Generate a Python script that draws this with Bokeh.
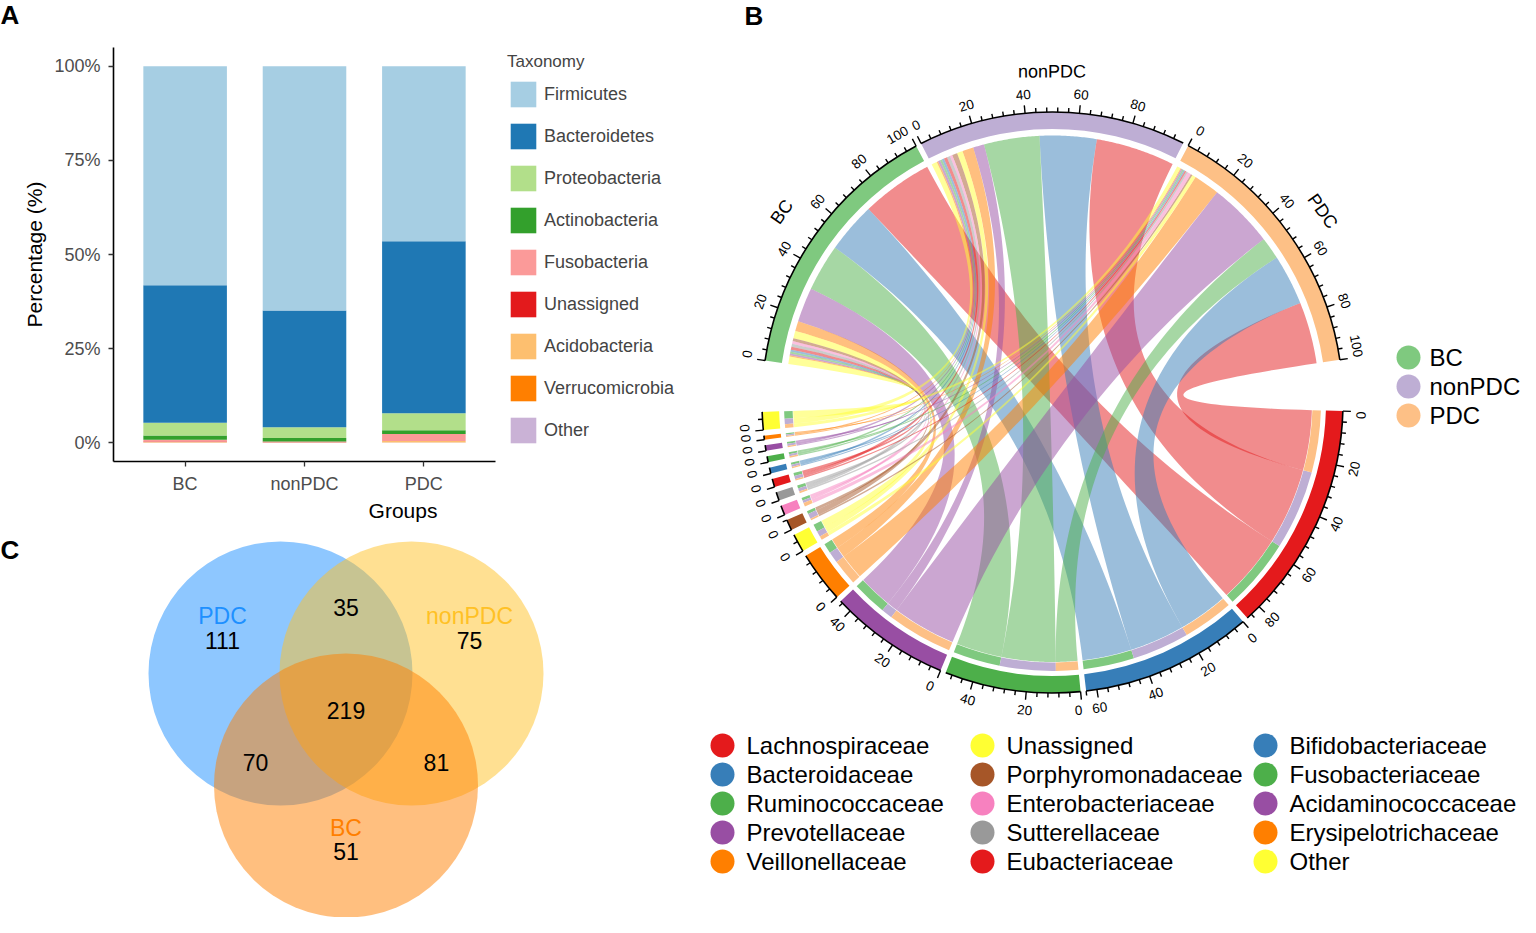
import math
import numpy as np
from bokeh.plotting import figure
from bokeh.models import (ColumnDataSource, Range1d, FixedTicker, Legend, LegendItem)
from bokeh.layouts import row, column
from bokeh.embed import file_html
from bokeh.resources import INLINE
from bokeh.core.properties import value

FONT = "Liberation Sans"

# ---------------- Panel A data ----------------
bar_groups = ["BC", "nonPDC", "PDC"]
taxa = ["Firmicutes", "Bacteroidetes", "Proteobacteria", "Actinobacteria",
        "Fusobacteria", "Unassigned", "Acidobacteria", "Verrucomicrobia", "Other"]
taxa_colors = ["#A6CEE3", "#1F78B4", "#B2DF8A", "#33A02C", "#FB9A99",
               "#E31A1C", "#FDBF6F", "#FF7F00", "#CAB2D6"]
firmicutes = [58.2, 64.9, 46.5]
bacteroidetes = [36.5, 31.0, 45.7]
proteobacteria = [3.4, 2.83, 4.5]
actinobacteria = [1.1, 0.98, 0.97]
fusobacteria = [0.5, 0.05, 1.85]
unassigned_phylum = [0.15, 0.15, 0.05]
acidobacteria = [0.05, 0.02, 0.35]
verrucomicrobia = [0.02, 0.01, 0.02]
other_phylum = [0.08, 0.06, 0.06]
y_ticks = [0, 25, 50, 75, 100]
y_tick_labels = ["0%", "25%", "50%", "75%", "100%"]

# ---------------- Panel B data ----------------
chord_groups = ["BC", "nonPDC", "PDC"]
chord_group_colors = ["#7FC97F", "#BEAED4", "#FDC086"]
families = ["Lachnospiraceae", "Bacteroidaceae", "Ruminococcaceae", "Prevotellaceae",
            "Veillonellaceae", "Unassigned", "Porphyromonadaceae", "Enterobacteriaceae",
            "Sutterellaceae", "Eubacteriaceae", "Bifidobacteriaceae", "Fusobacteriaceae",
            "Acidaminococcaceae", "Erysipelotrichaceae", "Other"]
family_colors = ["#E41A1C", "#377EB8", "#4DAF4A", "#984EA3", "#FF7F00", "#FFFF33",
                 "#A65628", "#F781BF", "#999999", "#E41A1C", "#377EB8", "#4DAF4A",
                 "#984EA3", "#FF7F00", "#FFFF33"]
bc_family = [29.0, 20.5, 19.0, 14.0, 4.0, 3.0, 1.2, 1.1, 1.2, 1.2, 0.8, 0.8, 0.7, 0.5, 3.0]
nonpdc_family = [32.0, 23.0, 22.5, 4.5, 4.5, 2.3, 2.1, 1.0, 1.3, 1.3, 0.9, 0.8, 0.9, 0.6, 2.2]
pdc_family = [25.0, 20.5, 9.0, 26.5, 10.5, 1.5, 0.7, 1.5, 0.7, 0.6, 0.5, 0.6, 0.5, 0.4, 1.5]

# ---------------- Panel C data ----------------
venn_sets = ["PDC", "nonPDC", "BC"]
venn_colors = ["#1E90FF", "#FFC125", "#FF7F00"]
venn_only = [111, 75, 51]
venn_pdc_nonpdc = 35
venn_pdc_bc = 70
venn_nonpdc_bc = 81
venn_all = 219

panel_letters = ["A", "C"]

# =====================================================================
# Narrow strip holding the panel letters A and C
# =====================================================================
STRIP_W = 20
pL = figure(frame_width=STRIP_W, frame_height=917, x_range=Range1d(0, STRIP_W),
            y_range=Range1d(-917, 0), output_backend="svg", toolbar_location=None,
            min_border=0)
pL.axis.visible = False
pL.grid.visible = False
pL.outline_line_color = None
pL.text(x=[0, 0], y=[-14, -549], text=panel_letters, text_font=value(FONT),
        text_font_size="26px", text_font_style="bold", text_baseline="middle",
        text_align="left")

# =====================================================================
# Panel A : stacked bars
# =====================================================================
PX_PER_CAT = 119.375
LEFT_A = 113 - STRIP_W
FRAME_A_W = 579
series = [firmicutes, bacteroidetes, proteobacteria, actinobacteria, fusobacteria,
          unassigned_phylum, acidobacteria, verrucomicrobia, other_phylum]
x_pos = [i + 1 for i in range(len(bar_groups))]
src = ColumnDataSource(dict(xpos=x_pos, **{t: s for t, s in zip(taxa, series)}))

x_lo = 0.4
pA = figure(frame_width=FRAME_A_W, frame_height=414,
            x_range=Range1d(x_lo, x_lo + FRAME_A_W / PX_PER_CAT),
            y_range=Range1d(-5, 105), output_backend="svg", toolbar_location=None,
            min_border_left=LEFT_A, min_border_right=0, min_border_top=47,
            min_border_bottom=64)
rev_taxa = list(reversed(taxa))
rev_cols = list(reversed(taxa_colors))
rends = pA.vbar_stack(stackers=rev_taxa, x="xpos", width=0.7, fill_color=rev_cols,
                      line_color=None, source=src)
rend_map = dict(zip(rev_taxa, rends))
pA.xgrid.visible = False
pA.ygrid.visible = False
pA.outline_line_color = None
for ax in (pA.xaxis[0], pA.yaxis[0]):
    ax.axis_line_color = "black"
    ax.axis_line_width = 1.6
    ax.major_tick_line_color = "#333333"
    ax.major_tick_line_width = 1.3
    ax.major_tick_out = 5
    ax.major_tick_in = 0
    ax.minor_tick_line_color = None
    ax.major_label_text_font = FONT
    ax.major_label_text_font_size = "18px"
    ax.major_label_text_color = "#4D4D4D"
    ax.axis_label_text_font = FONT
    ax.axis_label_text_font_size = "21px"
    ax.axis_label_text_font_style = "normal"
    ax.axis_label_text_color = "black"
pA.yaxis.ticker = FixedTicker(ticks=y_ticks)
pA.yaxis.major_label_overrides = {t: l for t, l in zip(y_ticks, y_tick_labels)}
pA.yaxis.axis_label = "Percentage (%)"
pA.yaxis.major_label_standoff = 8
pA.yaxis.axis_label_standoff = 5
pA.xaxis.ticker = FixedTicker(ticks=x_pos)
pA.xaxis.major_label_overrides = {p: g for p, g in zip(x_pos, bar_groups)}
pA.xaxis.bounds = (x_lo, len(bar_groups) + 0.6)
pA.xaxis.axis_label = "Groups"
pA.xaxis.major_label_standoff = 7
pA.xaxis.axis_label_standoff = 2

legA = Legend(items=[LegendItem(label=t, renderers=[rend_map[t]]) for t in taxa],
              location=(394, 15), title="Taxonomy", glyph_width=32, glyph_height=32,
              label_height=32, spacing=10, label_standoff=5, padding=0, margin=0,
              border_line_color=None, background_fill_alpha=0,
              label_text_font=FONT, label_text_font_size="18px",
              title_text_font=FONT, title_text_font_size="17px",
              title_text_font_style="normal", title_standoff=6)
pA.add_layout(legA)

# =====================================================================
# Panel C : Venn diagram
# =====================================================================
C_TOP = 540
C_H = 392
pC = figure(frame_width=FRAME_A_W, frame_height=C_H, x_range=Range1d(113, 692),
            y_range=Range1d(-(C_TOP + C_H), -C_TOP), output_backend="svg",
            toolbar_location=None, min_border_left=LEFT_A, min_border_right=0,
            min_border_top=0, min_border_bottom=0)
pC.axis.visible = False
pC.grid.visible = False
pC.outline_line_color = None

venn_cx = [280.0, 411.0, 345.5]
venn_cy = [-688.0, -688.0, -800.0]
VR = 132.0
for i in range(3):
    pC.circle(x=[venn_cx[i]], y=[venn_cy[i]], radius=VR, fill_color=venn_colors[i],
              fill_alpha=0.5, line_color=None)
gx, gy = sum(venn_cx) / 3, sum(venn_cy) / 3
vfs = "23px"
for i in range(3):
    dx, dy = venn_cx[i] - gx, venn_cy[i] - gy
    lx, ly = gx + 1.886 * dx, gy + 1.886 * dy
    pC.text(x=[lx], y=[ly + 24], text=[venn_sets[i]], text_color=venn_colors[i],
            text_font=value(FONT), text_font_size=vfs, text_align="center",
            text_baseline="middle")
    pC.text(x=[lx], y=[ly], text=[str(venn_only[i])], text_color="black",
            text_font=value(FONT), text_font_size=vfs, text_align="center",
            text_baseline="middle")
pair_vals = [(venn_nonpdc_bc, 0), (venn_pdc_bc, 1), (venn_pdc_nonpdc, 2)]
for val, opp in pair_vals:
    dx, dy = venn_cx[opp] - gx, venn_cy[opp] - gy
    k = 1.39 if opp == 2 else 1.38
    pC.text(x=[gx - k * dx], y=[gy - k * dy], text=[str(val)], text_color="black",
            text_font=value(FONT), text_font_size=vfs, text_align="center",
            text_baseline="middle")
pC.text(x=[gx], y=[gy], text=[str(venn_all)], text_color="black", text_font=value(FONT),
        text_font_size=vfs, text_align="center", text_baseline="middle")

# =====================================================================
# Panel B : chord diagram
# =====================================================================
pB = figure(frame_width=828, frame_height=917, x_range=Range1d(708, 1536),
            y_range=Range1d(-917, 0), output_backend="svg", toolbar_location=None,
            min_border=0)
pB.axis.visible = False
pB.grid.visible = False
pB.outline_line_color = None

CX, CY = 1068.0, -402.0
DEG_PER_UNIT = 0.537
SMALL_GAP = 1.1
START_ANGLE = 171.7
R_OUT, R_IN = 290.5, 273.5
R_TRACK_OUT, R_TRACK_IN = 268.5, 260.0
R_LINK_GROUP = 267.0
R_LINK_FAM = 259.5
R_TICKLAB = 309.0
TICK_FS = 13.5

matrix = np.array([bc_family, nonpdc_family, pdc_family])
group_tot = matrix.sum(axis=1)
fam_tot = matrix.sum(axis=0)
names = chord_groups + families
colors_all = chord_group_colors + family_colors
sizes = list(group_tot) + list(fam_tot)
big_gap = (360 - sum(sizes) * DEG_PER_UNIT - (len(names) - 2) * SMALL_GAP) / 2

sec_start = []
th = START_ANGLE
for k, s in enumerate(sizes):
    sec_start.append(th)
    th -= s * DEG_PER_UNIT
    th -= big_gap if k in (2, len(sizes) - 1) else SMALL_GAP


def ang(k, v):
    return sec_start[k] - v * DEG_PER_UNIT


def arc_pts(t0, t1, r):
    n = max(3, int(abs(t1 - t0) / 0.4) + 2)
    ts = np.radians(np.linspace(t0, t1, n))
    return list(CX + r * np.cos(ts)), list(CY + r * np.sin(ts))


def pt(t, r):
    return CX + r * math.cos(math.radians(t)), CY + r * math.sin(math.radians(t))


def bez(p0, p2, n=50):
    t = np.linspace(0, 1, n)
    x = (1 - t) ** 2 * p0[0] + 2 * (1 - t) * t * CX + t ** 2 * p2[0]
    y = (1 - t) ** 2 * p0[1] + 2 * (1 - t) * t * CY + t ** 2 * p2[1]
    return list(x), list(y)


grp_pos = {}
for gi in range(3):
    off = 0.0
    for fj in reversed(range(len(families))):
        m = matrix[gi, fj]
        grp_pos[(gi, fj)] = (off, off + m)
        off += m
fam_pos = {}
for fj in range(len(families)):
    off = 0.0
    for gi in reversed(range(3)):
        m = matrix[gi, fj]
        fam_pos[(gi, fj)] = (off, off + m)
        off += m

xs, ys, cs = [], [], []
for gi in range(3):
    for fj in range(len(families)):
        a0, a1 = grp_pos[(gi, fj)]
        b0, b1 = fam_pos[(gi, fj)]
        ta0, ta1 = ang(gi, a0), ang(gi, a1)
        tb0, tb1 = ang(3 + fj, b0), ang(3 + fj, b1)
        px, py = arc_pts(ta0, ta1, R_LINK_GROUP)
        bx, by = bez(pt(ta1, R_LINK_GROUP), pt(tb0, R_LINK_FAM))
        px += bx; py += by
        ax2, ay2 = arc_pts(tb0, tb1, R_LINK_FAM)
        px += ax2; py += ay2
        bx, by = bez(pt(tb1, R_LINK_FAM), pt(ta0, R_LINK_GROUP))
        px += bx; py += by
        xs.append(px); ys.append(py); cs.append(family_colors[fj])
pB.patches(xs=xs, ys=ys, fill_color=cs, fill_alpha=0.5, line_color=None)

ring_start = [math.radians(ang(k, sizes[k])) for k in range(len(names))]
ring_end = [math.radians(sec_start[k]) for k in range(len(names))]
pB.annular_wedge(x=[CX] * len(names), y=[CY] * len(names), inner_radius=R_IN,
                 outer_radius=R_OUT, start_angle=ring_start, end_angle=ring_end,
                 direction="anticlock", fill_color=colors_all, line_color=None)

tr_s, tr_e, tr_c = [], [], []
for fj in range(len(families)):
    for gi in range(3):
        b0, b1 = fam_pos[(gi, fj)]
        tr_s.append(math.radians(ang(3 + fj, b1)))
        tr_e.append(math.radians(ang(3 + fj, b0)))
        tr_c.append(chord_group_colors[gi])
pB.annular_wedge(x=[CX] * len(tr_s), y=[CY] * len(tr_s), inner_radius=R_TRACK_IN,
                 outer_radius=R_TRACK_OUT, start_angle=tr_s, end_angle=tr_e,
                 direction="anticlock", fill_color=tr_c, line_color=None)

pB.arc(x=[CX] * len(names), y=[CY] * len(names), radius=R_OUT, start_angle=ring_start,
       end_angle=ring_end, direction="anticlock", line_color="black", line_width=1.6)
tx0, ty0, tx1, ty1 = [], [], [], []
lx, ly, lt, la = [], [], [], []
for k, s in enumerate(sizes):
    v = 0
    while v <= s + 1e-9:
        t = ang(k, v)
        major = (v % 20 == 0)
        x0, y0 = pt(t, R_OUT)
        x1, y1 = pt(t, R_OUT + (8 if major else 4.5))
        tx0.append(x0); ty0.append(y0); tx1.append(x1); ty1.append(y1)
        if major:
            hw_deg = math.degrees(len(str(v)) * 0.556 * TICK_FS / 2 / R_TICKLAB)
            tl = t
            tl -= max(0.0, hw_deg - v * DEG_PER_UNIT)
            tl += max(0.0, hw_deg - (s - v) * DEG_PER_UNIT)
            x2, y2 = pt(tl, R_TICKLAB)
            lx.append(x2); ly.append(y2); lt.append(str(v))
            rot = tl - 90 if math.sin(math.radians(tl)) > 0 else tl + 90
            la.append(math.radians(rot))
        v += 4
pB.segment(x0=tx0, y0=ty0, x1=tx1, y1=ty1, line_color="black", line_width=1.4)
pB.text(x=lx, y=ly, text=lt, angle=la, text_font=value(FONT),
        text_font_size=f"{TICK_FS}px", text_align="center", text_baseline="middle",
        text_color="black")

sl_x, sl_y, sl_a = [], [], []
for gi in range(3):
    t = ang(gi, sizes[gi] / 2)
    x, y = pt(t, 331)
    sl_x.append(x); sl_y.append(y); sl_a.append(math.radians(t - 90))
pB.text(x=sl_x, y=sl_y, text=chord_groups, angle=sl_a, text_font=value(FONT),
        text_font_size="18px", text_align="center", text_baseline="middle")

gl_x = [1424] * 3
gl_y = [-357 - 29 * i for i in range(3)]
pB.scatter(x=gl_x, y=gl_y, size=24, marker="circle", fill_color=chord_group_colors,
           line_color=None)
pB.text(x=[1445] * 3, y=gl_y, text=chord_groups, text_font=value(FONT),
        text_font_size="24px", text_align="left", text_baseline="middle")

col_cx = [738, 998, 1281]
fl_x, fl_y, tl_x = [], [], []
for j in range(len(families)):
    c, r = divmod(j, 5)
    fl_x.append(col_cx[c]); tl_x.append(col_cx[c] + 24); fl_y.append(-745 - 29 * r)
pB.scatter(x=fl_x, y=fl_y, size=24, marker="circle", fill_color=family_colors,
           line_color=None)
pB.text(x=tl_x, y=fl_y, text=families, text_font=value(FONT), text_font_size="24px",
        text_align="left", text_baseline="middle")

pB.text(x=[760], y=[-15], text=["B"], text_font=value(FONT), text_font_size="26px",
        text_font_style="bold", text_baseline="middle", text_align="left")

layout = row(pL, column(pA, pC), pB)
open("out.html", "w").write(file_html(layout, INLINE))
